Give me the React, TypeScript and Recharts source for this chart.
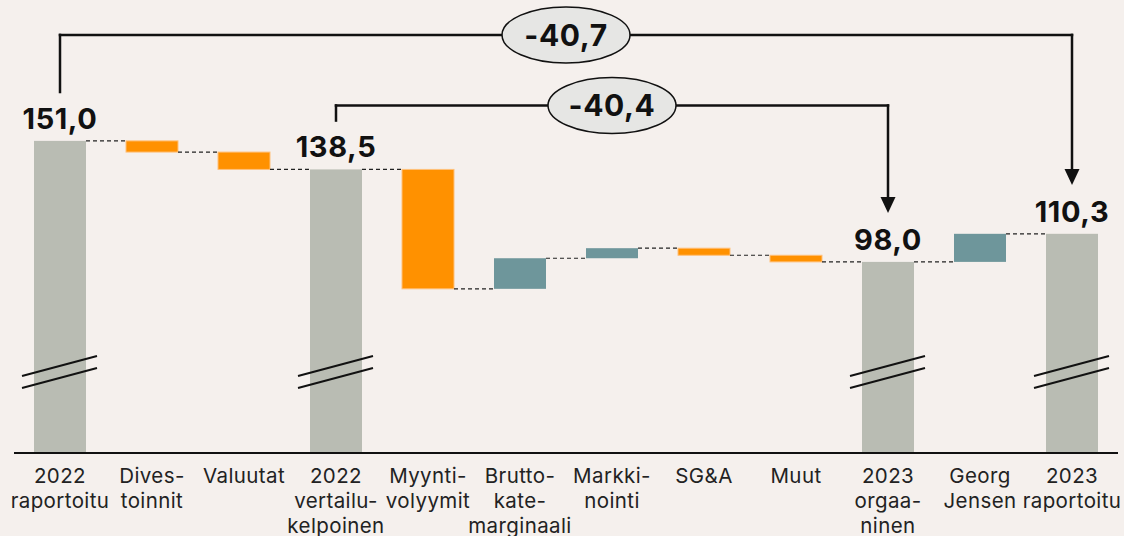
import React from 'react';
import { BarChart, Bar, XAxis, YAxis, ReferenceLine, ReferenceDot } from 'recharts';

// ---------- data ----------
const categories: string[][] = [
  ['2022', 'raportoitu'],
  ['Dives-', 'toinnit'],
  ['Valuutat'],
  ['2022', 'vertailu-', 'kelpoinen'],
  ['Myynti-', 'volyymit'],
  ['Brutto-', 'kate-', 'marginaali'],
  ['Markki-', 'nointi'],
  ['SG&A'],
  ['Muut'],
  ['2023', 'orgaa-', 'ninen'],
  ['Georg', 'Jensen'],
  ['2023', 'raportoitu'],
];
const totals: (number | null)[] = [151.0, null, null, 138.5, null, null, null, null, null, 98.0, null, 110.3];
const deltas: (number | null)[] = [null, -4.9, -7.6, null, -52.3, 13.4, 4.4, -3.1, -2.9, null, 12.3, null];
const bracketFrom = [0, 3];
const bracketTo = [11, 9];
const bracketLabels = ['-40,7', '-40,4'];

// ---------- layout / style ----------
const CHART_W = 1124;
const CHART_H = 536;
const MARGIN = { top: 29, right: 6, bottom: 0, left: 14 };
const XAXIS_H = 83;
const Y_MIN = 14.3;
const Y_MAX = 200;
const BAR_SIZE = 52;
const PITCH = (CHART_W - MARGIN.left - MARGIN.right) / categories.length;
const HALF = BAR_SIZE / 2 / PITCH;
const BRACKET_LEVELS = [197.4, 166.5];
const BRACKET_GAP = 21.4;
const ARROW_BODY = 4.5;

const BG = '#f5f0ed';
const GRAY = '#b9bcb3';
const ORANGE = '#ff9100';
const TEAL = '#6e969b';
const INK = '#111111';
const FONT = 'Inter, "Noto Sans", sans-serif';

const fmt = (v: number) => v.toFixed(1).replace('.', ',');

type Row = { x: number; range: [number, number]; kind: 'total' | 'up' | 'down'; end: number; label: string };
const data: Row[] = [];
{
  let running = 0;
  categories.forEach((_, i) => {
    const t = totals[i];
    if (t !== null && t !== undefined) {
      running = t;
      data.push({ x: i, range: [Y_MIN, t], kind: 'total', end: t, label: fmt(t) });
    } else {
      const d = deltas[i] as number;
      const start = running;
      const end = +(running + d).toFixed(2);
      running = end;
      data.push({
        x: i,
        range: [Math.min(start, end), Math.max(start, end)],
        kind: d >= 0 ? 'up' : 'down',
        end,
        label: '',
      });
    }
  });
}

const BarShape = (props: any) => {
  const { x, y, width, height, payload } = props;
  if (width == null || height == null) return null;
  const kind = payload.kind;
  const fill = kind === 'total' ? GRAY : kind === 'up' ? TEAL : ORANGE;
  const bottom = y + height;
  return (
    <g>
      <rect
        x={x}
        y={y}
        width={width}
        height={height}
        fill={fill}
        stroke={kind === 'down' ? '#ffc07a' : 'none'}
        strokeWidth={kind === 'down' ? 1 : 0}
      />
      {kind === 'total' && (
        <g stroke={INK} strokeWidth={2}>
          <line x1={x - 12} y1={bottom - 77} x2={x + width + 11} y2={bottom - 97} />
          <line x1={x - 12} y1={bottom - 65} x2={x + width + 11} y2={bottom - 85} />
        </g>
      )}
      {kind === 'total' && (
        <text
          x={x + width / 2}
          y={y - 12}
          textAnchor="middle"
          fontFamily={FONT}
          fontSize={29}
          fontWeight={700}
          letterSpacing={0.6}
          fill={INK}
        >
          {payload.label}
        </text>
      )}
    </g>
  );
};

const Tick = (props: any) => {
  const { x, y, payload } = props;
  const lines = categories[payload.value] || [];
  return (
    <text x={x} y={y} textAnchor="middle" fontFamily={FONT} fontSize={20.5} letterSpacing={0.4} fill="#222">
      {lines.map((l, i) => (
        <tspan key={i} x={x} dy={i === 0 ? 30 : 25}>
          {l}
        </tspan>
      ))}
    </text>
  );
};

const makeBadge = (text: string) => (props: any) => {
  const { cx, cy } = props;
  return (
    <g>
      <ellipse cx={cx} cy={cy} rx={64} ry={28} fill="#e6e6e4" stroke={INK} strokeWidth={1.5} />
      <text
        x={cx}
        y={cy + 11}
        textAnchor="middle"
        fontFamily={FONT}
        fontSize={30}
        fontWeight={700}
        letterSpacing={0.6}
        fill={INK}
      >
        {text}
      </text>
    </g>
  );
};

const Arrowhead = (props: any) => {
  const { cx, cy } = props;
  return <path d={`M${cx - 7.5},${cy - 16} L${cx + 7.5},${cy - 16} L${cx},${cy} Z`} fill={INK} />;
};

export default function App() {
  const connectors = data.slice(0, -1).map((r, i) => (
    <ReferenceLine
      key={`c${i}`}
      segment={[
        { x: i + HALF, y: r.end },
        { x: i + 1 - HALF, y: r.end },
      ]}
      stroke="#222"
      strokeWidth={1.2}
      strokeDasharray="4 3"
      ifOverflow="visible"
    />
  ));

  const brackets: React.ReactNode[] = [];
  bracketFrom.forEach((from, k) => {
    const to = bracketTo[k];
    const level = BRACKET_LEVELS[k];
    const yFrom = data[from].end + BRACKET_GAP;
    const yTo = data[to].end + BRACKET_GAP;
    const common = { stroke: INK, strokeWidth: 2.5, ifOverflow: 'visible' as const, strokeLinecap: 'square' as any };
    brackets.push(
      <ReferenceLine key={`bl${k}`} segment={[{ x: from, y: yFrom }, { x: from, y: level }]} {...common} />,
      <ReferenceLine key={`bh${k}`} segment={[{ x: from, y: level }, { x: to, y: level }]} {...common} />,
      <ReferenceLine key={`br${k}`} segment={[{ x: to, y: level }, { x: to, y: yTo + ARROW_BODY }]} {...common} />,
    );
  });
  const dots: React.ReactNode[] = [];
  bracketFrom.forEach((from, k) => {
    const to = bracketTo[k];
    dots.push(
      <ReferenceDot
        key={`a${k}`}
        x={to}
        y={data[to].end + BRACKET_GAP}
        r={1}
        ifOverflow="visible"
        shape={Arrowhead}
      />,
      <ReferenceDot
        key={`e${k}`}
        x={(from + to) / 2}
        y={BRACKET_LEVELS[k]}
        r={1}
        ifOverflow="visible"
        shape={makeBadge(bracketLabels[k])}
      />,
    );
  });

  return (
    <div style={{ position: 'absolute', left: 0, top: 0, width: CHART_W, height: CHART_H, background: BG }}>
      <BarChart width={CHART_W} height={CHART_H} data={data} margin={MARGIN}>
        <XAxis
          dataKey="x"
          type="number"
          domain={[-0.5, categories.length - 0.5]}
          ticks={categories.map((_, i) => i)}
          interval={0}
          tick={<Tick />}
          tickLine={false}
          tickSize={0}
          tickMargin={0}
          height={XAXIS_H}
          axisLine={{ stroke: INK, strokeWidth: 2 }}
          allowDataOverflow
        />
        <YAxis hide type="number" domain={[Y_MIN, Y_MAX]} allowDataOverflow />
        {connectors}
        <Bar dataKey="range" barSize={BAR_SIZE} shape={<BarShape />} isAnimationActive={false} />
        {brackets}
        {dots}
      </BarChart>
    </div>
  );
}
